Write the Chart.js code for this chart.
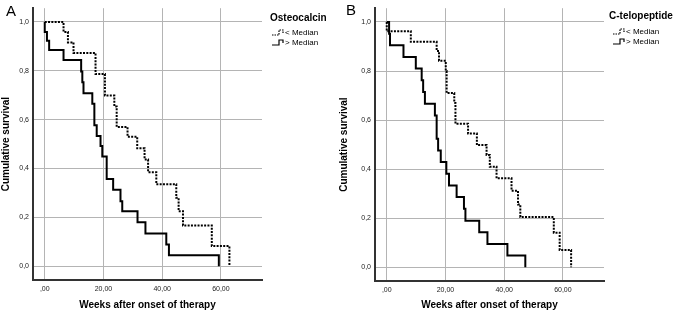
<!DOCTYPE html>
<html>
<head>
<meta charset="utf-8">
<script src="https://cdn.jsdelivr.net/npm/chart.js@4.4.1/dist/chart.umd.min.js"></script>
<style>
html, body { margin: 0; padding: 0; background: #fff; }
#wrap { position: relative; width: 676px; height: 315px; }
#wrap canvas { position: absolute; top: 0; }
</style>
</head>
<body>
<div id="wrap">
  <canvas id="chartA" width="338" height="315" style="left:0px"></canvas>
  <canvas id="chartB" width="338" height="315" style="left:338px"></canvas>
</div>
<script>
// axis ticks (SPSS style, comma decimals)
var xTickValues = [0, 20, 40, 60];
var xTickLabels = [',00', '20,00', '40,00', '60,00'];
var yTickValues = [0, 0.2, 0.4, 0.6, 0.8, 1.0];
var yTickLabels = ['0,0', '0,2', '0,4', '0,6', '0,8', '1,0'];
var seriesLabels = ['< Median', '> Median'];

// Panel A - Osteocalcin
var osteoLowWeeks = [0, 6.4, 7.9, 9.8, 17.3, 20.5, 23.7, 24.5, 28.2, 31.5, 34.0, 35.2, 38.0, 44.8, 45.6, 47.1, 56.9, 62.9];
var osteoLowSurv  = [1.0, 0.959, 0.916, 0.873, 0.787, 0.699, 0.654, 0.570, 0.530, 0.483, 0.437, 0.385, 0.336, 0.280, 0.225, 0.167, 0.083, 0.0];
var osteoHighWeeks = [0, 0, 0.75, 1.5, 6.4, 12.4, 12.8, 13.2, 16.2, 16.9, 17.7, 19.0, 19.6, 21.1, 23.3, 25.8, 26.4, 31.6, 34.3, 41.4, 42.3, 59.3];
var osteoHighSurv  = [1.0, 0.959, 0.923, 0.885, 0.844, 0.797, 0.753, 0.708, 0.665, 0.577, 0.533, 0.492, 0.449, 0.357, 0.313, 0.266, 0.225, 0.180, 0.134, 0.089, 0.045, 0.0];

// Panel B - C-telopeptide
var ctxLowWeeks = [0, 0, 8.2, 17.0, 17.8, 20.1, 20.4, 23.0, 23.4, 27.7, 30.7, 34.0, 35.1, 37.4, 42.5, 44.7, 45.5, 56.9, 58.9, 62.8];
var ctxLowSurv  = [1.0, 0.962, 0.919, 0.882, 0.842, 0.800, 0.710, 0.670, 0.585, 0.545, 0.498, 0.458, 0.410, 0.363, 0.312, 0.256, 0.205, 0.141, 0.070, 0.0];
var ctxHighWeeks = [0, 0.8, 1.1, 5.7, 9.9, 11.9, 12.4, 13.0, 16.4, 17.0, 17.5, 18.4, 20.3, 21.2, 23.8, 26.3, 26.8, 31.5, 34.3, 41.1, 47.2];
var ctxHighSurv  = [1.0, 0.952, 0.905, 0.857, 0.810, 0.762, 0.714, 0.667, 0.619, 0.524, 0.476, 0.429, 0.381, 0.333, 0.286, 0.238, 0.190, 0.143, 0.095, 0.048, 0.0];

var FONT = '"Liberation Sans", Arial, sans-serif';

function toPoints(weeks, surv) {
    return weeks.map(function (w, i) { return { x: w, y: surv[i] }; });
}

// letter, legend title and the little step icons
var panelDecor = {
    id: 'panelDecor',
    afterDraw: function (chart, args, opts) {
        var ctx = chart.ctx;
        ctx.save();
        ctx.fillStyle = '#000';
        ctx.textAlign = 'left';
        ctx.textBaseline = 'alphabetic';
        ctx.font = '15px ' + FONT;
        ctx.fillText(opts.letter, opts.letterX, opts.letterY);

        ctx.textBaseline = 'middle';
        ctx.font = 'bold 10px ' + FONT;
        ctx.fillText(opts.title, opts.legendX, opts.titleY);

        ctx.font = '8px ' + FONT;
        chart.data.datasets.forEach(function (ds, i) {
            var y = opts.rowY[i];
            var x = opts.iconX;
            ctx.strokeStyle = '#000';
            ctx.lineWidth = 1.2;
            ctx.setLineDash(ds.borderDash && ds.borderDash.length ? [1.5, 1] : []);
            ctx.beginPath();
            ctx.moveTo(x, y + 2);
            ctx.lineTo(x + 7, y + 2);
            ctx.lineTo(x + 7, y - 3);
            ctx.lineTo(x + 11, y - 3);
            ctx.lineTo(x + 11, y);
            ctx.stroke();
            ctx.setLineDash([]);
            ctx.fillText(ds.label, x + 13, y);
        });
        ctx.restore();
    }
};

function makePanel(id, lowPts, highPts, decor, pad, yWidth, xHeight) {
    return new Chart(document.getElementById(id).getContext('2d'), {
        type: 'line',
        data: {
            datasets: [{
                label: seriesLabels[0],
                data: lowPts,
                stepped: 'before',
                borderColor: '#000',
                borderWidth: 2,
                borderDash: [2, 1.3],
                pointRadius: 0,
                fill: false
            }, {
                label: seriesLabels[1],
                data: highPts,
                stepped: 'before',
                borderColor: '#000',
                borderWidth: 2,
                pointRadius: 0,
                fill: false
            }]
        },
        options: {
            responsive: false,
            animation: false,
            layout: { padding: pad },
            plugins: {
                legend: { display: false },
                tooltip: { enabled: false },
                panelDecor: decor
            },
            scales: {
                x: {
                    type: 'linear',
                    min: -4,
                    max: 74,
                    afterBuildTicks: function (scale) {
                        scale.ticks = xTickValues.map(function (v) { return { value: v }; });
                    },
                    afterFit: function (scale) { scale.height = xHeight; },
                    grid: { color: '#b4b4b4', lineWidth: 1, drawTicks: false },
                    border: { color: '#333', width: 2 },
                    ticks: {
                        autoSkip: false,
                        maxRotation: 0,
                        padding: 5,
                        color: '#222',
                        font: { family: FONT, size: 7 },
                        callback: function (v, i) { return xTickLabels[i]; }
                    },
                    title: {
                        display: true,
                        text: 'Weeks after onset of therapy',
                        color: '#000',
                        font: { family: FONT, size: 10, weight: 'bold' },
                        padding: { top: 0, bottom: 4 }
                    }
                },
                y: {
                    type: 'linear',
                    min: -0.056,
                    max: 1.056,
                    afterBuildTicks: function (scale) {
                        scale.ticks = yTickValues.map(function (v) { return { value: v }; });
                    },
                    afterFit: function (scale) { scale.width = yWidth; },
                    grid: { color: '#b4b4b4', lineWidth: 1, drawTicks: false },
                    border: { color: '#333', width: 2 },
                    ticks: {
                        autoSkip: false,
                        padding: 4,
                        color: '#222',
                        font: { family: FONT, size: 7 },
                        callback: function (v, i) { return yTickLabels[i]; }
                    },
                    title: {
                        display: true,
                        text: 'Cumulative survival',
                        color: '#000',
                        font: { family: FONT, size: 10, weight: 'bold' },
                        padding: { top: 0, bottom: 0 }
                    }
                }
            }
        },
        plugins: [panelDecor]
    });
}

makePanel('chartA', toPoints(osteoLowWeeks, osteoLowSurv), toPoints(osteoHighWeeks, osteoHighSurv),
    { letter: 'A', letterX: 6, letterY: 16, title: 'Osteocalcin', legendX: 270, titleY: 18,
      iconX: 272, rowY: [33, 43] },
    { left: 0, top: 7, right: 76, bottom: 0 }, 33, 35);

makePanel('chartB', toPoints(ctxLowWeeks, ctxLowSurv), toPoints(ctxHighWeeks, ctxHighSurv),
    { letter: 'B', letterX: 8, letterY: 15, title: 'C-telopeptide', legendX: 271, titleY: 16,
      iconX: 275, rowY: [32, 42] },
    { left: 0, top: 5, right: 72, bottom: 0 }, 37, 34);
</script>
</body>
</html>
